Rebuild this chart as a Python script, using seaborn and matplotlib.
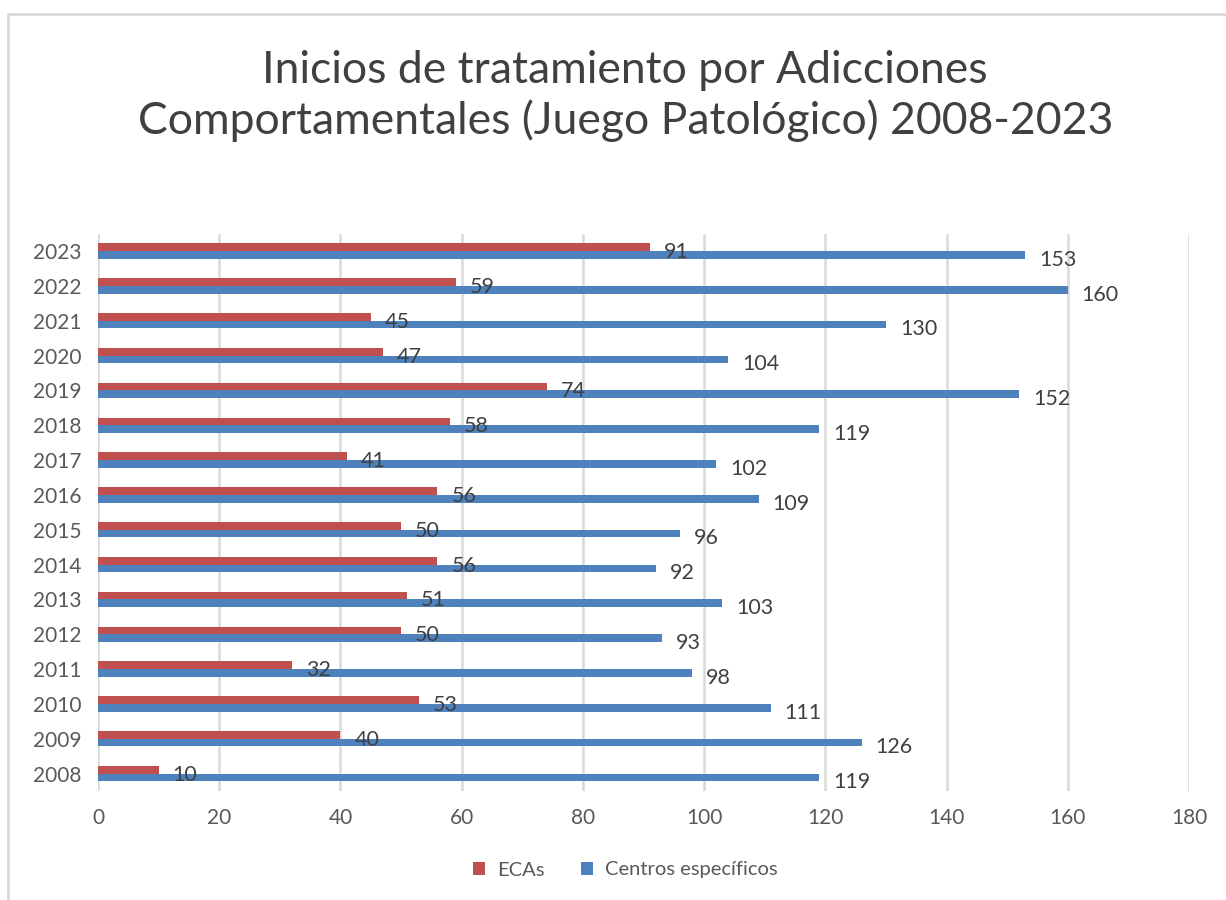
import matplotlib
matplotlib.use("Agg")
import matplotlib.pyplot as plt
import seaborn as sns
import pandas as pd
from matplotlib.patches import Patch
from matplotlib.lines import Line2D

years = ["2023", "2022", "2021", "2020", "2019", "2018", "2017", "2016",
         "2015", "2014", "2013", "2012", "2011", "2010", "2009", "2008"]
ecas = [91, 59, 45, 47, 74, 58, 41, 56, 50, 56, 51, 50, 32, 53, 40, 10]
centros = [153, 160, 130, 104, 152, 119, 102, 109, 96, 92, 103, 93, 98, 111, 126, 119]
series_names = ["ECAs", "Centros específicos"]
colors = ["#C0504D", "#4F81BD"]
title = "Inicios de tratamiento por Adicciones\nComportamentales (Juego Patológico) 2008-2023"

df = pd.DataFrame({
    "year": years * 2,
    "value": ecas + centros,
    "serie": [series_names[0]] * len(years) + [series_names[1]] * len(years),
})

sns.set_theme(style="white")
plt.rcParams["font.family"] = ["Lato", "DejaVu Sans"]

fig = plt.figure(figsize=(12.26, 9), dpi=100)
ax = fig.add_axes([98 / 1226, 1 - 791 / 900, (1189 - 98) / 1226, (791 - 233.6) / 900])

sns.barplot(data=df, x="value", y="year", hue="serie", order=years,
            hue_order=series_names, palette=colors, orient="h", width=0.44,
            ax=ax, legend=False, saturation=1, linewidth=0)

for cont in ax.containers:
    texts = ax.bar_label(cont, padding=10, fontsize=15.5, color="#404040")
    for t in texts:
        t.xyann = (10, -3.5)

ax.set_xlim(0, 180)
ax.set_ylim(15.5, -0.5)
ax.set_xticks(range(0, 181, 20))
ax.grid(axis="x", color="#d9d9d9", linewidth=1.8)
ax.grid(axis="y", visible=False)
ax.set_axisbelow(True)
for s in ax.spines.values():
    s.set_visible(False)
ax.set_xlabel("")
ax.set_ylabel("")
ax.tick_params(axis="both", length=0, labelsize=15, colors="#595959")
ax.tick_params(axis="x", pad=12)
ax.tick_params(axis="y", pad=12)

fig.text(0.51, 1 - 96 / 900, title, ha="center", va="center", fontsize=32,
         color="#404040", linespacing=1.25)

handles = [Patch(facecolor=c, edgecolor="none") for c in colors]
fig.legend(handles, series_names, loc="center", bbox_to_anchor=(0.51, 1 - 870 / 900),
           ncol=2, frameon=False, fontsize=14.5, handlelength=0.6, handleheight=0.6,
           handletextpad=0.6, columnspacing=1.8, labelcolor="#595959")

# chart frame (left and top edges visible)
fig.add_artist(Line2D([8 / 1226, 8 / 1226], [0, 1 - 14 / 900], color="#d9d9d9", lw=2))
fig.add_artist(Line2D([8 / 1226, 1], [1 - 14 / 900, 1 - 14 / 900], color="#d9d9d9", lw=2))

fig.savefig("out.png", dpi=100)
